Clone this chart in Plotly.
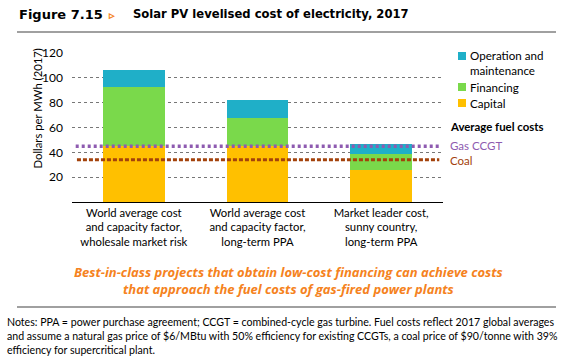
import plotly.graph_objects as go

# ---------------- data ----------------
categories = [
    "World average cost<br>and capacity factor,<br>wholesale market risk",
    "World average cost<br>and capacity factor,<br>long-term PPA",
    "Market leader cost,<br>sunny country,<br>long-term PPA",
]
capital = [45, 45, 26]
financing = [47.5, 23, 13]
om = [14, 14, 7.5]
gas_ccgt = 45
coal = 34
y_ticks = [20, 40, 60, 80, 100, 120]

# ---------------- styles ----------------
C_CAP = "#FFC000"
C_FIN = "#7AD94B"
C_OM = "#1FAFC8"
C_GAS = "#8E5BB0"
C_COAL = "#A3420B"
C_ORANGE = "#F58220"
FONT = "Lato"

xpos = list(range(len(categories)))

fig = go.Figure()
fig.add_bar(x=xpos, y=capital, name="Capital", marker_color=C_CAP, marker_line_width=0)
fig.add_bar(x=xpos, y=financing, name="Financing", marker_color=C_FIN, marker_line_width=0)
fig.add_bar(x=xpos, y=om, name="Operation and maintenance", marker_color=C_OM, marker_line_width=0)

fig.add_scatter(x=[-0.47, 2.47], y=[gas_ccgt, gas_ccgt], mode="lines",
                line=dict(color=C_GAS, width=3.5, dash="3px,3px"), showlegend=False)
fig.add_scatter(x=[-0.46, 2.47], y=[coal, coal], mode="lines",
                line=dict(color=C_COAL, width=3, dash="4px,2px"), showlegend=False)

fig.update_layout(
    width=574, height=361,
    margin=dict(l=72, r=131, t=53, b=159),
    barmode="stack", bargap=0.5,
    plot_bgcolor="white", paper_bgcolor="white",
    showlegend=False,
    font=dict(family=FONT, size=12, color="#000"),
)
fig.update_xaxes(
    range=[-0.5, 2.5], tickvals=xpos, ticktext=categories,
    showgrid=False, showline=True, linecolor="#000", linewidth=1.2,
    ticks="", tickfont=dict(size=11.3, color="#000"), fixedrange=True,
)
fig.update_yaxes(
    range=[0, 120], tickvals=y_ticks, showgrid=True, gridcolor="#777",
    griddash="dot", gridwidth=1, zeroline=False, showline=False, ticks="",
    tickfont=dict(size=12, color="#000"), ticklabelstandoff=8,
)

# pixel -> paper helpers
PL, PR, PT, PB = 72, 574 - 131, 53, 361 - 159
def px(x):
    return (x - PL) / (PR - PL)
def py(y):
    return (PB - y) / (PB - PT)

ann = []
ann.append(dict(text="Dollars per MWh (2017)", x=px(28), y=py(109), xref="paper", yref="paper",
                textangle=-90, showarrow=False, font=dict(size=11.3)))
# title
ann.append(dict(text="<b>Figure 7.15</b>", x=px(17), y=py(14), xref="paper", yref="paper",
                xanchor="left", yanchor="middle", showarrow=False,
                font=dict(size=13, family="DejaVu Sans")))
ann.append(dict(text="<b>▹</b>", x=px(106), y=py(14), xref="paper", yref="paper",
                xanchor="left", yanchor="middle", showarrow=False,
                font=dict(size=11, color=C_ORANGE)))
ann.append(dict(text="<b>Solar PV levelised cost of electricity, 2017</b>", x=px(131), y=py(14),
                xref="paper", yref="paper", xanchor="left", yanchor="middle", showarrow=False,
                font=dict(size=11.6, family="DejaVu Sans")))

# legend
leg = [("Operation and<br>maintenance", C_OM, 56, 63), ("Financing", C_FIN, 87, 87), ("Capital", C_CAP, 103, 103)]
shapes = []
for label, col, ysq, ytxt in leg:
    shapes.append(dict(type="rect", xref="paper", yref="paper",
                       x0=px(458), x1=px(466), y0=py(ysq + 4), y1=py(ysq - 4),
                       fillcolor=col, line_width=0))
    ann.append(dict(text=label, x=px(468), y=py(ytxt), xref="paper", yref="paper",
                    xanchor="left", yanchor="middle", align="left", showarrow=False,
                    font=dict(size=11.6)))
ann.append(dict(text="<b>Average fuel costs</b>", x=px(448), y=py(127), xref="paper", yref="paper",
                xanchor="left", yanchor="middle", showarrow=False, font=dict(size=11.4)))
ann.append(dict(text="Gas CCGT", x=px(448), y=py(145), xref="paper", yref="paper",
                xanchor="left", yanchor="middle", showarrow=False, font=dict(size=11.5, color=C_GAS)))
ann.append(dict(text="Coal", x=px(448), y=py(160), xref="paper", yref="paper",
                xanchor="left", yanchor="middle", showarrow=False, font=dict(size=11.5, color=C_COAL)))

# orange message
ann.append(dict(text="<b><i>Best-in-class projects that obtain low-cost financing can achieve costs<br>that approach the fuel costs of gas-fired power plants</i></b>",
                x=px(288), y=py(280), xref="paper", yref="paper", xanchor="center", yanchor="middle",
                showarrow=False, font=dict(size=13, color=C_ORANGE, family="Open Sans")))

# notes
ann.append(dict(text="Notes: PPA = power purchase agreement; CCGT = combined-cycle gas turbine. Fuel costs reflect 2017 global averages<br>"
                     "and assume a natural gas price of $6/MBtu with 50% efficiency for existing CCGTs, a coal price of $90/tonne with 39%<br>"
                     "efficiency for supercritical plant.",
                x=px(5), y=py(336), xref="paper", yref="paper", xanchor="left", yanchor="middle",
                align="left", showarrow=False, font=dict(size=10.6)))

# separator lines
shapes.append(dict(type="line", xref="paper", yref="paper", x0=px(17), x1=px(556), y0=py(32), y1=py(32),
                   line=dict(color="#808080", width=1.5)))
shapes.append(dict(type="line", xref="paper", yref="paper", x0=px(17), x1=px(556), y0=py(307), y1=py(307),
                   line=dict(color="#808080", width=1.5)))

fig.update_layout(annotations=ann, shapes=shapes)
fig.write_html("out.html", config={"displayModeBar": False},
               post_script="document.body.style.margin='0';document.body.style.overflow='hidden';")
